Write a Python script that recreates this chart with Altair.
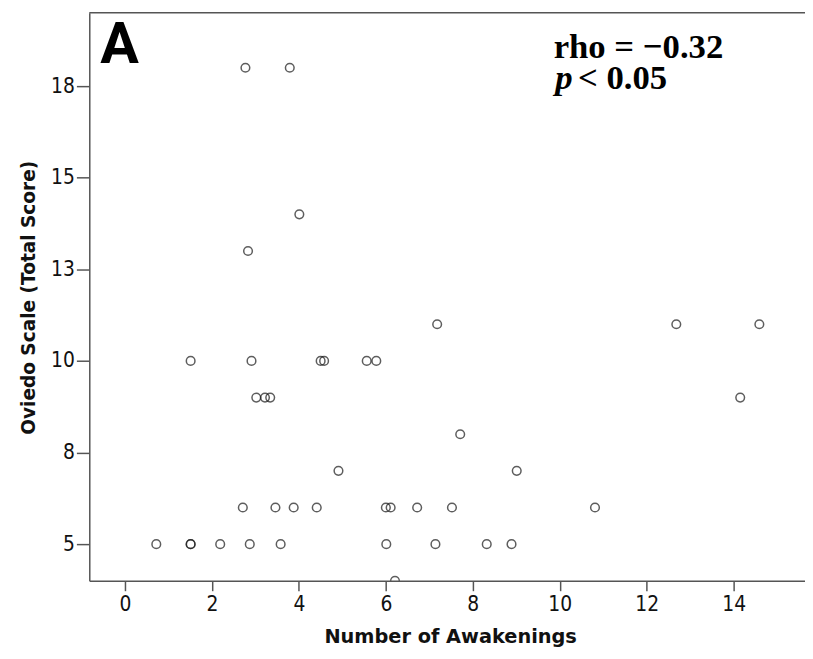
import altair as alt
import pandas as pd

# Data
awakenings = [2.77, 3.79,
              4.01,
              2.83,
              7.18, 12.68, 14.59,
              1.51, 2.91, 4.50, 4.58, 5.56, 5.78,
              3.02, 3.22, 3.34, 14.15,
              7.71,
              4.91, 9.01,
              2.71, 3.46, 3.88, 4.41, 6.00, 6.11, 6.72, 7.52, 10.81,
              0.72, 1.51, 1.51, 2.19, 2.87, 3.58, 6.01, 7.14, 8.32, 8.89,
              6.21]
oviedo = [18, 18,
          14,
          13,
          11, 11, 11,
          10, 10, 10, 10, 10, 10,
          9, 9, 9, 9,
          8,
          7, 7,
          6, 6, 6, 6, 6, 6, 6, 6, 6,
          5, 5, 5, 5, 5, 5, 5, 5, 5, 5,
          4]

x_ticks = [0, 2, 4, 6, 8, 10, 12, 14]
y_ticks = [5, 7.5, 10, 12.5, 15, 17.5]

panel_label = ["A"]
rho_text = ["rho = \u22120.32"]
p_text = ["p"]
p_rest = ["< 0.05"]

W, H = 722, 573

df = pd.DataFrame({"awakenings": awakenings, "oviedo": oviedo})

points = alt.Chart(df).mark_point(
    shape="circle", filled=False, size=76, stroke="#1a1a1a", strokeWidth=1.5, clip=True
).encode(
    x=alt.X("awakenings:Q",
            scale=alt.Scale(domain=[-0.821, 15.64], nice=False, zero=False),
            axis=alt.Axis(values=x_ticks, title="Number of Awakenings", grid=False,
                          domainColor="#555555", domainWidth=1.5,
                          tickColor="#555555", tickWidth=1.5, tickSize=10,
                          labelFont="DejaVu Sans Condensed", labelFontSize=21,
                          labelColor="#111111", labelPadding=3,
                          titleFont="DejaVu Sans", titleFontWeight="bold",
                          titleFontSize=19.5, titleColor="#111111",
                          titleX=364, titleY=62, titleBaseline="alphabetic")),
    y=alt.Y("oviedo:Q",
            scale=alt.Scale(domain=[4, 19.5], nice=False, zero=False),
            axis=alt.Axis(values=y_ticks, title="Oviedo Scale (Total Score)", grid=False,
                          labelExpr="format(round(datum.value), 'd')",
                          domainColor="#555555", domainWidth=1.5,
                          tickColor="#555555", tickWidth=1.5, tickSize=13,
                          labelFont="DejaVu Sans Condensed", labelFontSize=21,
                          labelColor="#111111", labelPadding=2,
                          titleFont="DejaVu Sans", titleFontWeight="bold",
                          titleFontSize=18.7, titleColor="#111111",
                          titleX=-55, titleY=287, titleBaseline="alphabetic")),
)

top_line = alt.Chart(pd.DataFrame({"k": [0]})).mark_rule(
    color="#555555", strokeWidth=1.5
).encode(x=alt.value(0), x2=alt.value(W), y=alt.value(0))

label_a = alt.Chart(pd.DataFrame({"t": panel_label})).mark_text(
    font="Roboto", fontWeight="bold", fontSize=58, align="left",
    baseline="alphabetic", color="#000000"
).encode(text="t:N", x=alt.value(11), y=alt.value(51))

rho = alt.Chart(pd.DataFrame({"t": rho_text})).mark_text(
    font="Liberation Serif", fontWeight="bold", fontSize=35, align="center",
    baseline="alphabetic", color="#000000"
).encode(text="t:N", x=alt.value(554), y=alt.value(46))

p_it = alt.Chart(pd.DataFrame({"t": p_text})).mark_text(
    font="Liberation Serif", fontWeight="bold", fontStyle="italic", fontSize=35,
    align="left", baseline="alphabetic", color="#000000"
).encode(text="t:N", x=alt.value(470), y=alt.value(77))

p_r = alt.Chart(pd.DataFrame({"t": p_rest})).mark_text(
    font="Liberation Serif", fontWeight="bold", fontSize=35, align="left",
    baseline="alphabetic", color="#000000"
).encode(text="t:N", x=alt.value(493), y=alt.value(77))

chart = alt.layer(points, top_line, label_a, rho, p_it, p_r).properties(
    width=W, height=H,
    autosize=alt.AutoSizeParams(type="none"),
    padding={"left": 82, "top": 2, "right": 0, "bottom": 68},
    background="white",
).configure_view(strokeWidth=0)

chart.save("out.html", embed_options={"renderer": "svg", "actions": False})
